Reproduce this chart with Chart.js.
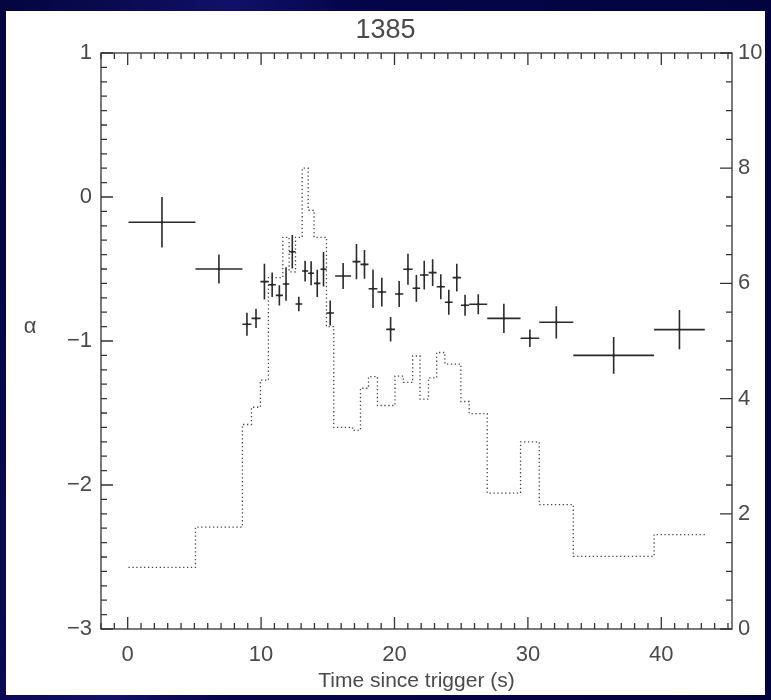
<!DOCTYPE html>
<html>
<head>
<meta charset="utf-8">
<script src="https://cdn.jsdelivr.net/npm/chart.js@4.4.1/dist/chart.umd.min.js"></script>
<style>
  html, body { margin:0; padding:0; width:771px; height:700px; overflow:hidden;
    background: linear-gradient(100deg, #04043f 0%, #0c0c5a 18%, #10106a 26%, #04044a 40%, #03033c 100%); }
  #panel { position:absolute; left:6px; top:11px; width:759px; height:684px; background:#ffffff; }
  #wrap { position:absolute; left:0; top:0; width:771px; height:700px; }
</style>
</head>
<body>
<div id="panel"></div>
<div id="wrap"><canvas id="c" width="771" height="700"></canvas></div>
<script>
// ---------------- data ----------------
const titleText = '1385';
const xTitle = 'Time since trigger (s)';
const yTitle = 'α';
const xTicks = [0, 10, 20, 30, 40];
const alphaTicks = [-3, -2, -1, 0, 1];
const rateTicks = [0, 2, 4, 6, 8, 10];

// spectral index alpha per time bin
const time = [2.57, 6.84, 8.94, 9.62, 10.25, 10.83, 11.37, 11.87, 12.34, 12.83, 13.30, 13.75,
  14.21, 14.68, 15.18, 16.15, 17.15, 17.75, 18.39, 19.05, 19.71, 20.35, 21.01, 21.64,
  22.23, 22.86, 23.47, 24.07, 24.67, 25.29, 26.28, 28.20, 30.15, 32.13, 36.43, 41.36];
const timeErr = [2.51, 1.76, 0.34, 0.34, 0.30, 0.28, 0.27, 0.24, 0.24, 0.25, 0.23, 0.22,
  0.24, 0.23, 0.28, 0.60, 0.30, 0.30, 0.33, 0.33, 0.33, 0.31, 0.35, 0.28,
  0.32, 0.30, 0.31, 0.29, 0.31, 0.31, 0.67, 1.25, 0.70, 1.28, 3.03, 1.90];
const alpha = [-0.175, -0.50, -0.884, -0.843, -0.588, -0.609, -0.683, -0.604, -0.38, -0.743, -0.514, -0.53,
  -0.60, -0.502, -0.806, -0.549, -0.449, -0.468, -0.637, -0.66, -0.919, -0.674, -0.502, -0.634,
  -0.542, -0.525, -0.623, -0.731, -0.56, -0.752, -0.745, -0.843, -0.981, -0.87, -1.10, -0.921];
const alphaErr = [0.175, 0.10, 0.08, 0.067, 0.124, 0.085, 0.07, 0.117, 0.116, 0.05, 0.072, 0.083,
  0.095, 0.12, 0.087, 0.09, 0.123, 0.10, 0.133, 0.10, 0.085, 0.09, 0.108, 0.093,
  0.10, 0.093, 0.087, 0.087, 0.096, 0.073, 0.07, 0.102, 0.06, 0.112, 0.127, 0.136];

// count rate light curve (right axis), step histogram
const binEdges = [0.06, 5.08, 8.6, 9.28, 9.95, 10.55, 11.1, 11.63, 12.1, 12.58, 13.08, 13.53,
  13.97, 14.45, 14.9, 15.45, 16.85, 17.45, 18.05, 18.72, 19.38, 20.04, 20.66, 21.36,
  21.91, 22.55, 23.16, 23.78, 24.35, 24.98, 25.6, 26.95, 29.45, 30.85, 33.4, 39.46, 43.26];
const rate = [1.07, 1.77, 3.55, 3.85, 4.32, 6.1, 6.1, 6.8, 6.2, 6.8, 8.0, 7.27,
  6.8, 6.8, 5.25, 3.5, 3.45, 4.18, 4.38, 3.88, 3.88, 4.39, 4.28, 4.74,
  3.99, 4.36, 4.8, 4.6, 4.6, 3.95, 3.74, 2.36, 3.25, 2.16, 1.26, 1.64];

// ---------------- styling ----------------
const FONT = "'Liberation Sans', Arial, sans-serif";
const TXT = '#4a4a4a';
const INK = '#2a2a2a';
const fmt = v => (v < 0 ? '\u2212' + Math.abs(v) : String(v));

const stepData = binEdges.map((e, i) => ({ x: e, y: rate[Math.min(i, rate.length - 1)] }));
const alphaData = time.map((t, i) => ({ x: t, y: alpha[i] }));

const errorBars = {
  id: 'errorBars',
  afterDatasetsDraw(chart) {
    const { ctx, scales: { x, y } } = chart;
    ctx.save();
    ctx.strokeStyle = INK;
    ctx.lineWidth = 1.6;
    ctx.beginPath();
    for (let i = 0; i < time.length; i++) {
      const cx = x.getPixelForValue(time[i]);
      const cy = y.getPixelForValue(alpha[i]);
      ctx.moveTo(x.getPixelForValue(time[i] - timeErr[i]), cy);
      ctx.lineTo(x.getPixelForValue(time[i] + timeErr[i]), cy);
      ctx.moveTo(cx, y.getPixelForValue(alpha[i] - alphaErr[i]));
      ctx.lineTo(cx, y.getPixelForValue(alpha[i] + alphaErr[i]));
    }
    ctx.stroke();
    ctx.restore();
  }
};

const frame = {
  id: 'frame',
  afterDraw(chart) {
    const { ctx, chartArea: a, scales: { x, y, y2 } } = chart;
    ctx.save();
    ctx.strokeStyle = '#333';
    ctx.lineWidth = 1.3;
    ctx.strokeRect(a.left, a.top, a.right - a.left, a.bottom - a.top);
    ctx.beginPath();
    for (let t = Math.ceil(x.min); t <= x.max; t++) {
      const px = x.getPixelForValue(t);
      const L = (t % 10 === 0) ? 12 : 6;
      ctx.moveTo(px, a.bottom); ctx.lineTo(px, a.bottom - L);
      ctx.moveTo(px, a.top); ctx.lineTo(px, a.top + L);
    }
    for (let k = -30; k <= 10; k++) {
      const py = y.getPixelForValue(k / 10);
      const L = (k % 10 === 0) ? 12 : 6;
      ctx.moveTo(a.left, py); ctx.lineTo(a.left + L, py);
    }
    for (let k = 0; k <= 20; k++) {
      const py = y2.getPixelForValue(k / 2);
      const L = (k % 4 === 0) ? 12 : 6;
      ctx.moveTo(a.right, py); ctx.lineTo(a.right - L, py);
    }
    ctx.stroke();
    // y title (upright)
    ctx.fillStyle = TXT;
    ctx.font = '22px ' + FONT;
    ctx.textAlign = 'center';
    ctx.textBaseline = 'middle';
    ctx.fillText(yTitle, 30, (a.top + a.bottom) / 2 - 14);
    ctx.restore();
  }
};

new Chart(document.getElementById('c'), {
  data: {
    datasets: [
      {
        type: 'line',
        data: stepData,
        yAxisID: 'y2',
        stepped: true,
        borderColor: '#444',
        borderWidth: 1.3,
        borderDash: [1.3, 2.6],
        pointRadius: 0,
        fill: false
      },
      {
        type: 'scatter',
        data: alphaData,
        yAxisID: 'y',
        pointRadius: 1.2,
        pointBackgroundColor: '#000',
        pointBorderWidth: 0
      }
    ]
  },
  options: {
    responsive: false,
    animation: false,
    layout: { padding: 0 },
    plugins: {
      legend: { display: false },
      tooltip: { enabled: false },
      title: {
        display: true,
        text: titleText,
        color: TXT,
        font: { family: FONT, size: 27, weight: 'normal', lineHeight: 1.2 },
        padding: { top: 14, bottom: 6.6 }
      }
    },
    scales: {
      x: {
        type: 'linear',
        position: 'bottom',
        min: -2,
        max: 45.3,
        grid: { display: false, drawTicks: false },
        border: { display: false },
        afterBuildTicks: s => { s.ticks = xTicks.map(v => ({ value: v })); },
        afterFit: s => { s.height = 71; },
        ticks: { color: TXT, font: { family: FONT, size: 22 }, padding: 13, maxRotation: 0,
          callback: v => fmt(v) },
        title: { display: true, text: xTitle, color: TXT,
          font: { family: FONT, size: 21 }, padding: { top: 0, bottom: 6 } }
      },
      y: {
        type: 'linear',
        position: 'left',
        min: -3,
        max: 1,
        grid: { display: false, drawTicks: false },
        border: { display: false },
        afterBuildTicks: s => { s.ticks = alphaTicks.map(v => ({ value: v })); },
        afterFit: s => { s.width = 101; },
        ticks: { color: TXT, font: { family: FONT, size: 22 }, padding: 9,
          callback: v => fmt(v) }
      },
      y2: {
        type: 'linear',
        position: 'right',
        min: 0,
        max: 10,
        grid: { display: false, drawTicks: false },
        border: { display: false },
        afterBuildTicks: s => { s.ticks = rateTicks.map(v => ({ value: v })); },
        afterFit: s => { s.width = 39; },
        ticks: { color: TXT, font: { family: FONT, size: 22 }, padding: 6,
          callback: v => fmt(v) }
      }
    }
  },
  plugins: [errorBars, frame]
});
</script>
</body>
</html>
